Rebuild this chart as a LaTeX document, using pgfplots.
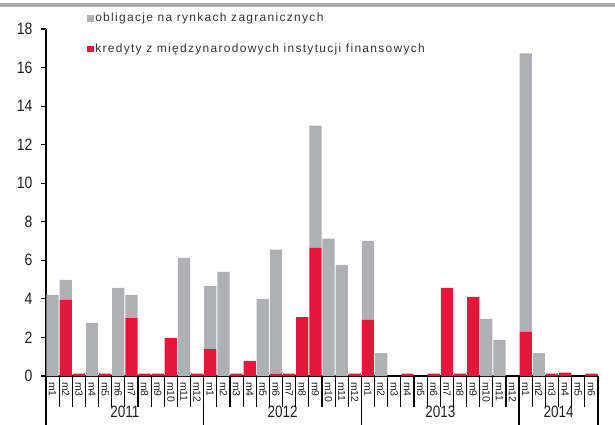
\documentclass[border=0pt]{standalone}
\usepackage{fontspec}
\setmainfont{Liberation Sans}
\newfontfamily\legfont[LetterSpace=11]{Liberation Sans}
\usepackage{pgfplots}
\usepackage{pgfplotstable}
\pgfplotsset{compat=1.18}

\definecolor{obgray}{HTML}{AFB0B3}
\definecolor{kred}{HTML}{E2183A}
\definecolor{txt}{HTML}{1E1E1E}
\definecolor{legtxt}{HTML}{333333}
\definecolor{topline}{HTML}{ABABAB}

% monthly flows, bn: red = loans from IFIs (bottom), gray = foreign bonds (on top)
\pgfplotstableread{
x  red   gray
1  0     4.21
2  3.95  1.04
3  0.12  0
4  0     2.75
5  0.12  0
6  0     4.57
7  3.00  1.21
8  0.12  0
9  0.12  0
10 1.97  0
11 0     6.13
12 0.12  0
13 1.40  3.28
14 0     5.40
15 0.12  0
16 0.78  0
17 0     4.00
18 0.12  6.43
19 0.12  0
20 3.06  0
21 6.65  6.34
22 0     7.12
23 0     5.77
24 0.12  0
25 2.91  4.10
26 0     1.19
27 0     0
28 0.12  0
29 0     0
30 0.12  0
31 4.57  0
32 0.12  0
33 4.10  0
34 0     2.96
35 0     1.87
36 0     0
37 2.29  14.44
38 0     1.19
39 0.12  0
40 0.18  0
41 0     0
42 0.12  0
}\flows

\newcommand\yearlab[1]{\scalebox{0.82}[1]{#1}}

\begin{document}
\begin{tikzpicture}
\useasboundingbox (0,0) rectangle (615bp,425bp);
\fill[topline] (0,418bp) rectangle (615bp,422bp);
\begin{axis}[
  at={(46bp,49bp)}, anchor=south west,
  scale only axis, width=552bp, height=347bp,
  ybar stacked, bar width=0.93,
  xmin=0.5, xmax=42.5, ymin=0, ymax=18,
  axis x line=bottom, axis y line=left,
  axis line style={-, line width=1.6bp, black},
  xtick={1,...,42},
  xticklabels={m1,m2,m3,m4,m5,m6,m7,m8,m9,m10,m11,m12,
               m1,m2,m3,m4,m5,m6,m7,m8,m9,m10,m11,m12,
               m1,m2,m3,m4,m5,m6,m7,m8,m9,m10,m11,m12,
               m1,m2,m3,m4,m5,m6},
  xtick style={draw=none},
  xticklabel style={rotate=-90, anchor=west, inner sep=1bp,
    font=\fontsize{10.5}{11}\selectfont, text=txt},
  ytick={0,2,...,18},
  ytick style={black, line width=1.2bp},
  major tick length=5bp, tick align=outside,
  yticklabel={\scalebox{0.85}[1]{\pgfmathprintnumber{\tick}}},
  yticklabel style={font=\fontsize{16.5}{18}\selectfont, text=txt, xshift=-5bp},
  /pgf/number format/assume math mode=true,
  clip=false,
  reverse legend,
  legend cell align=left,
  legend image code/.code={\fill[#1] (0bp,-3.3bp) rectangle (6.5bp,3.3bp);},
  legend style={at={(axis description cs:0.069,0.986)}, anchor=west,
    draw=none, fill=none, text=legtxt,
    font=\legfont\fontsize{12}{13}\selectfont, row sep=17bp,
    nodes={inner xsep=1.5bp, inner ysep=1bp, text height=9bp, text depth=2.5bp}},
]
\addplot[fill=kred, draw=none] table[x=x, y=red] {\flows};
\addlegendentry{kredyty z międzynarodowych instytucji finansowych}
\addplot[fill=obgray, draw=none] table[x=x, y=gray] {\flows};
\addlegendentry{obligacje na rynkach zagranicznych}

% month and year separators below the axis
\pgfplotsinvokeforeach{0.5,1.5,...,42.5}{
  \draw[black, line width=1.2bp] (axis cs:#1,0) -- ++(0bp,-31bp);
}
\pgfplotsinvokeforeach{0.5,12.5,24.5,36.5,42.5}{
  \draw[black, line width=1.4bp] (axis cs:#1,0) -- ++(0bp,-49bp);
}
\node[yshift=-36bp, text=txt, font=\fontsize{16.5}{18}\selectfont] at (axis cs:6.5,0) {\yearlab{2011}};
\node[yshift=-36bp, text=txt, font=\fontsize{16.5}{18}\selectfont] at (axis cs:18.5,0) {\yearlab{2012}};
\node[yshift=-36bp, text=txt, font=\fontsize{16.5}{18}\selectfont] at (axis cs:30.5,0) {\yearlab{2013}};
\node[yshift=-36bp, text=txt, font=\fontsize{16.5}{18}\selectfont] at (axis cs:39.5,0) {\yearlab{2014}};
\end{axis}
\end{tikzpicture}
\end{document}
